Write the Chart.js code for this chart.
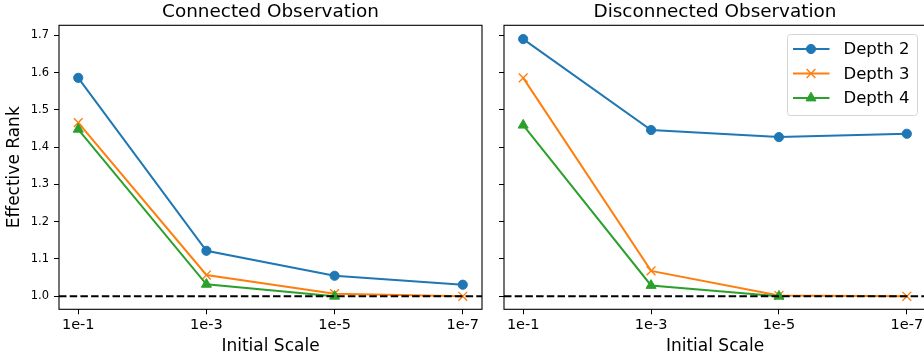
<!DOCTYPE html>
<html>
<head>
<meta charset="utf-8">
<script src="https://cdn.jsdelivr.net/npm/chart.js@4/dist/chart.umd.min.js"></script>
<style>
  html, body { margin: 0; padding: 0; background: #fff; overflow: hidden; }
  #wrap { position: relative; width: 924px; height: 354px; overflow: hidden; }
  canvas { position: absolute; top: 0; }
</style>
</head>
<body>
<div id="wrap">
  <canvas id="left" width="541" height="354" style="left:0"></canvas>
  <canvas id="right" width="450" height="354" style="left:490px"></canvas>
</div>
<script>
// ── data ──
const scaleLabels = ['1e-1', '1e-3', '1e-5', '1e-7'];
const yTicks = [1.0, 1.1, 1.2, 1.3, 1.4, 1.5, 1.6, 1.7];
const baseline = 1.0;

const connDepth2 = [1.586, 1.122, 1.055, 1.031];
const connDepth3 = [1.466, 1.057, 1.007, 1.0];
const connDepth4 = [1.448, 1.032, 1.0, null];

const discDepth2 = [1.690, 1.446, 1.427, 1.436];
const discDepth3 = [1.586, 1.068, 1.002, 1.0];
const discDepth4 = [1.459, 1.029, 1.0, null];

const seriesNames = ['Depth 2', 'Depth 3', 'Depth 4'];
const colors = ['#1f77b4', '#ff7f0e', '#2ca02c'];
const styles = [
  { pointStyle: 'circle', radius: 4.6, borderWidth: 1 },
  { pointStyle: 'crossRot', radius: 6.2, borderWidth: 1.4 },
  { pointStyle: 'triangle', radius: 5.8, borderWidth: 1 },
];

const FONT = "'DejaVu Sans', sans-serif";
const X_MIN = -0.15, X_MAX = 3.15;

function pts(vals) { return vals.map((v, i) => ({ x: i, y: v })); }

function makeDatasets(series) {
  const ds = series.map((vals, i) => ({
    label: seriesNames[i],
    data: pts(vals),
    borderColor: colors[i],
    backgroundColor: colors[i],
    borderWidth: 2,
    pointStyle: styles[i].pointStyle,
    pointRadius: styles[i].radius,
    pointBorderWidth: styles[i].borderWidth,
    pointHoverRadius: styles[i].radius,
    order: 3 - i,
    tension: 0,
  }));
  // dashed reference line at rank 1
  ds.push({
    label: 'baseline',
    data: [{ x: X_MIN, y: baseline }, { x: X_MAX, y: baseline }],
    borderColor: '#000',
    borderWidth: 2,
    borderDash: [7.5, 3.2],
    pointRadius: 0,
    order: 0,
  });
  return ds;
}

const framePlugin = {
  id: 'frame',
  afterDraw(chart) {
    const { ctx, chartArea: a } = chart;
    ctx.save();
    ctx.strokeStyle = '#000';
    ctx.lineWidth = 1.1;
    ctx.strokeRect(a.left, a.top, a.right - a.left, a.bottom - a.top);
    ctx.restore();
  }
};

// legend box drawn inside the plot, top right (matplotlib style)
const legendPlugin = {
  id: 'boxLegend',
  afterDraw(chart) {
    if (!chart.options.plugins.boxLegend || !chart.options.plugins.boxLegend.show) return;
    const ctx = chart.ctx;
    const ox = 787.5 - 490, oy = 34.5, w = 130, h = 81;
    ctx.save();
    ctx.fillStyle = 'rgba(255,255,255,0.8)';
    ctx.strokeStyle = '#d5d5d5';
    ctx.lineWidth = 1;
    ctx.beginPath();
    ctx.roundRect(ox, oy, w, h, 3);
    ctx.fill();
    ctx.stroke();
    const rows = [49, 73.5, 98];
    seriesNames.forEach((name, i) => {
      const y = rows[i];
      ctx.strokeStyle = colors[i];
      ctx.fillStyle = colors[i];
      ctx.lineWidth = 2;
      ctx.beginPath();
      ctx.moveTo(ox + 5.5, y);
      ctx.lineTo(ox + 42, y);
      ctx.stroke();
      ctx.lineWidth = styles[i].borderWidth;
      Chart.helpers.drawPoint(ctx, { pointStyle: styles[i].pointStyle, radius: styles[i].radius, borderWidth: styles[i].borderWidth, rotation: 0 }, ox + 23.5, y);
      ctx.fillStyle = '#000';
      ctx.font = '16.5px ' + FONT;
      ctx.textBaseline = 'middle';
      ctx.textAlign = 'left';
      ctx.fillText(name, 843.5 - 490, y + 1);
    });
    ctx.restore();
  }
};

function makeChart(id, title, series, isLeft) {
  return new Chart(document.getElementById(id), {
    type: 'line',
    data: { datasets: makeDatasets(series) },
    plugins: [framePlugin, legendPlugin],
    options: {
      responsive: false,
      animation: false,
      events: [],
      layout: { padding: { left: 0, right: isLeft ? 59 : 14, top: 0, bottom: 0 } },
      plugins: {
        legend: { display: false },
        tooltip: { enabled: false },
        boxLegend: { show: !isLeft },
      },
      scales: {
        // top axis only carries the panel title, centred over the plot
        top: {
          type: 'linear',
          position: 'top',
          min: X_MIN,
          max: X_MAX,
          afterFit: s => { s.height = 25.3; },
          ticks: { display: false },
          grid: { display: false },
          border: { display: false },
          title: {
            display: true,
            text: title,
            color: '#000',
            font: { family: FONT, size: 18.4, lineHeight: 1.2 },
            padding: { top: 1.5, bottom: 0 },
          },
        },
        x: {
          type: 'linear',
          min: X_MIN,
          max: X_MAX,
          afterBuildTicks: s => { s.ticks = scaleLabels.map((_, i) => ({ value: i })); },
          afterFit: s => { s.height = 44.7; },
          ticks: {
            color: '#000',
            padding: 2.5,
            maxRotation: 0,
            font: { family: FONT, size: 14.5 },
            callback: v => scaleLabels[v],
          },
          grid: { drawOnChartArea: false, drawTicks: true, tickLength: 5, color: '#000', tickWidth: 1 },
          border: { display: false },
          title: {
            display: true,
            text: 'Initial Scale',
            color: '#000',
            font: { family: FONT, size: 17, lineHeight: 0.9 },
            padding: { top: 0, bottom: 0 },
          },
        },
        y: {
          type: 'linear',
          min: 0.965,
          max: 1.727,
          afterBuildTicks: s => { s.ticks = yTicks.map(v => ({ value: v })); },
          afterFit: s => { s.width = isLeft ? 59 : 14; },
          ticks: {
            display: isLeft,
            color: '#000',
            padding: 5,
            font: { family: FONT, size: 11.5 },
            callback: v => v.toFixed(1),
          },
          grid: { drawOnChartArea: false, drawTicks: true, tickLength: 5, color: '#000', tickWidth: 1 },
          border: { display: false },
          title: {
            display: isLeft,
            text: 'Effective Rank',
            color: '#000',
            font: { family: FONT, size: 17, lineHeight: 1.2 },
            padding: { top: 4.8, bottom: 0 },
          },
        },
      },
    },
  });
}

makeChart('left', 'Connected Observation', [connDepth2, connDepth3, connDepth4], true);
makeChart('right', 'Disconnected Observation', [discDepth2, discDepth3, discDepth4], false);
</script>
</body>
</html>
